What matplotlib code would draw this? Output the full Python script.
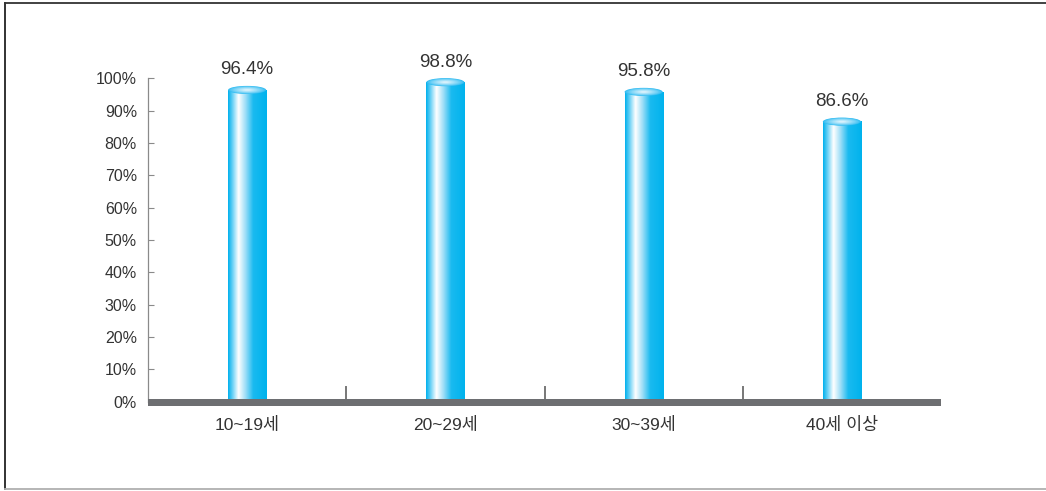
import matplotlib.pyplot as plt
from matplotlib.colors import LinearSegmentedColormap
from matplotlib.patches import Ellipse, Rectangle
import numpy as np

# age groups and share of users (%)
categories = ['10~19세', '20~29세', '30~39세', '40세 이상']
values = [96.4, 98.8, 95.8, 86.6]
yticks = [0, 10, 20, 30, 40, 50, 60, 70, 80, 90, 100]

plt.rcParams['font.family'] = ['Liberation Sans', 'Noto Sans CJK KR']

TEXT = '#333333'
AXIS = '#8a8a8a'
FLOOR = '#6d6e71'

# horizontal shading of the cylinders: cyan edges, white highlight left of centre
cyl = LinearSegmentedColormap.from_list('cyl', [
    (0.00, (0.00, 0.69, 0.93)),
    (0.10, (0.35, 0.80, 0.96)),
    (0.27, (1.00, 1.00, 1.00)),
    (0.45, (0.62, 0.87, 0.97)),
    (0.65, (0.10, 0.73, 0.94)),
    (1.00, (0.00, 0.70, 0.93)),
])

fig = plt.figure(figsize=(10.46, 4.91), dpi=100)
ax = fig.add_axes([148 / 1046, 89.3 / 491, 793 / 1046, 323.4 / 491])
ax.set_xlim(0, len(categories))
ax.set_ylim(0, 100)

bar_w = 0.192
cap_h = 2.5
grad = np.linspace(0, 1, 256).reshape(1, -1)
outer = np.array([0.20, 0.74, 0.95])
inner = np.array([0.85, 0.95, 0.99])
for i, v in enumerate(values):
    x = i + 0.5
    ax.imshow(grad, cmap=cyl, aspect='auto', extent=[x - bar_w / 2, x + bar_w / 2, 0, v],
              zorder=2, interpolation='bilinear')
    # elliptical top of the cylinder, shaded from the rim towards a light centre
    for k, f in enumerate(np.linspace(1.0, 0.15, 12)):
        col = outer + (inner - outer) * (k / 11) ** 0.8
        ax.add_patch(Ellipse((x, v), bar_w * f, cap_h * f, color=col, zorder=3, lw=0))
    ax.text(x, v + 3.6, f'{v:.1f}%', ha='center', va='bottom', fontsize=13.5, color=TEXT)

# floor band under the bars
ax.add_patch(Rectangle((0, -1.45), len(categories), 2.2, color=FLOOR, lw=0,
                       clip_on=False, zorder=4))

# separators between age groups
for k in range(1, len(categories)):
    ax.plot([k, k], [0.7, 4.4], color='#777777', lw=1.4, zorder=1)

for i, c in enumerate(categories):
    ax.text(i + 0.5, -7.3, c, ha='center', va='center', fontsize=12.5, color=TEXT)

ax.set_xticks([])
ax.set_yticks(yticks)
ax.set_yticklabels([f'{t}%' for t in yticks], fontsize=11.5, color=TEXT)
ax.tick_params(axis='y', direction='in', length=4, width=0.8, color=AXIS, pad=8)
for s in ['top', 'right', 'bottom']:
    ax.spines[s].set_visible(False)
ax.spines['left'].set_color(AXIS)
ax.spines['left'].set_linewidth(0.9)

# outer frame: dark left and top edges, light bottom edge
fig.add_artist(plt.Line2D([4.5 / 1046, 4.5 / 1046], [2 / 491, 488 / 491], color='#222222', lw=1.3))
fig.add_artist(plt.Line2D([4.5 / 1046, 1], [488 / 491, 488 / 491], color='#333333', lw=1.3))
fig.add_artist(plt.Line2D([4.5 / 1046, 1], [2.5 / 491, 2.5 / 491], color='#b0b0b0', lw=1.3))

fig.savefig('out.png', dpi=100)
